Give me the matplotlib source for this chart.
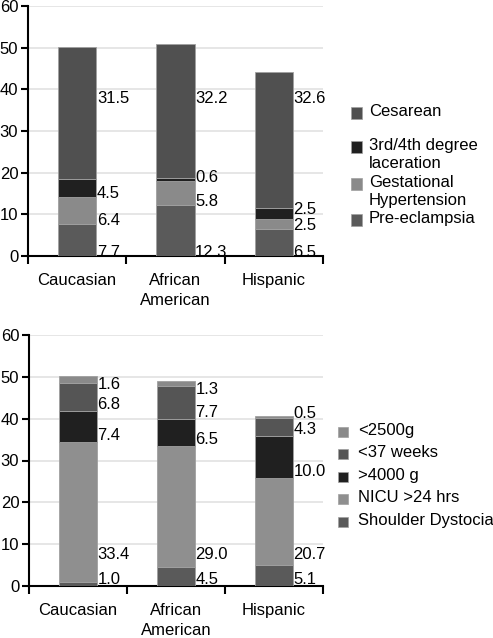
import matplotlib
matplotlib.use("Agg")
import matplotlib.pyplot as plt
from matplotlib.patches import Rectangle
import numpy as np

plt.rcParams['font.family'] = ['Liberation Sans', 'DejaVu Sans']

categories = ["Caucasian", "African\nAmerican", "Hispanic"]

# Top panel (bottom -> top of stack)
top_series = ["Pre-eclampsia", "Gestational\nHypertension", "3rd/4th degree\nlaceration", "Cesarean"]
pre_eclampsia = [7.7, 12.3, 6.5]
gestational_htn = [6.4, 5.8, 2.5]
laceration = [4.5, 0.6, 2.5]
cesarean = [31.5, 32.2, 32.6]
top_values = [pre_eclampsia, gestational_htn, laceration, cesarean]
top_colors = ["#5a5a5a", "#8a8a8a", "#202020", "#505050"]

# Bottom panel (bottom -> top of stack)
bot_series = ["Shoulder Dystocia", "NICU >24 hrs", ">4000 g", "<37 weeks", "<2500g"]
shoulder = [1.0, 4.5, 5.1]
nicu = [33.4, 29.0, 20.7]
macrosomia = [7.4, 6.5, 10.0]
preterm = [6.8, 7.7, 4.3]
lbw = [1.6, 1.3, 0.5]
bot_values = [shoulder, nicu, macrosomia, preterm, lbw]
bot_colors = ["#5a5a5a", "#8f8f8f", "#202020", "#555555", "#8a8a8a"]

yticks = [0, 10, 20, 30, 40, 50, 60]

W, H = 493, 638
fig = plt.figure(figsize=(W / 100, H / 100), dpi=100)


def panel(rect, values, colors, big_idx, big_y, offset, gap):
    ax = fig.add_axes(rect)
    x = np.arange(len(categories))
    bottoms = np.zeros(len(categories))
    label_prev = np.full(len(categories), -100.0)
    nser = len(values)
    for si, vals in enumerate(values):
        vals = np.array(vals, dtype=float)
        ax.bar(x, vals, width=0.39, bottom=bottoms, color=colors[si],
               edgecolor="#a0a0a0", linewidth=0.6, zorder=3)
        for ci in range(len(categories)):
            b = bottoms[ci]
            if si == big_idx:
                y = big_y
            else:
                y = b + offset
                if si == nser - 1:
                    y = min(y, b + vals[ci] - 2.0)
                y = max(y, label_prev[ci] + gap)
            label_prev[ci] = y
            ax.text(x[ci] + 0.2, y, f"{vals[ci]:.1f}", va="center", ha="left",
                    fontsize=12, color="black", zorder=4)
        bottoms = bottoms + vals
    ax.set_xlim(-0.5, len(categories) - 0.5)
    ax.set_ylim(0, 60)
    ax.set_yticks(yticks)
    ax.set_yticklabels([str(t) for t in yticks], fontsize=12)
    ax.set_xticks(np.arange(len(categories) + 1) - 0.5)
    ax.set_xticklabels([])
    ax.set_xticks(x, minor=True)
    ax.set_xticklabels(categories, minor=True, fontsize=12, linespacing=1.45)
    ax.tick_params(axis="x", which="minor", length=0, pad=12)
    ax.tick_params(axis="x", which="major", length=6, width=1.5, direction="out")
    ax.tick_params(axis="y", length=5, width=1.5, pad=2)
    ax.grid(axis="y", color="#e2e2e2", linewidth=1.2, zorder=0)
    ax.set_axisbelow(True)
    for s in ["top", "right"]:
        ax.spines[s].set_visible(False)
    for s in ["left", "bottom"]:
        ax.spines[s].set_linewidth(1.5)
    return ax


panel([28 / W, 1 - 256 / H, 295 / W, 250 / H], top_values, top_colors,
      big_idx=3, big_y=37.7, offset=0.8, gap=3.9)
panel([29 / W, 1 - 586 / H, 294 / W, 251 / H], bot_values, bot_colors,
      big_idx=1, big_y=7.6, offset=1.5, gap=4.0)


def legend(names, colors, ys, px, tx, size):
    for name, col, y in zip(names, colors, ys):
        fig.patches.append(Rectangle((px / W, 1 - (y + size / 2) / H), size / W, size / H,
                                     transform=fig.transFigure, facecolor=col,
                                     edgecolor="#a0a0a0", linewidth=0.5))
        fig.text(tx / W, 1 - (y - 9) / H, name, fontsize=12, va="top", ha="left",
                 linespacing=1.25)


legend(top_series[::-1], top_colors[::-1], [113, 147, 184, 220], 351, 369, 11)
legend(bot_series[::-1], bot_colors[::-1], [432, 454, 477, 499, 522], 338, 358, 10)

fig.savefig("out.png", dpi=100)
